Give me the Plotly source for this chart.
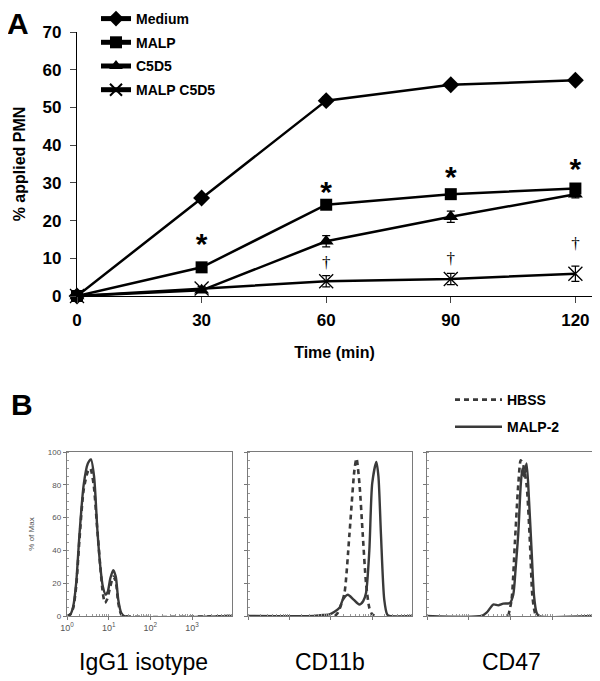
import plotly.graph_objects as go

# ---------------- Panel A data ----------------
time_min = [0, 30, 60, 90, 120]
medium = [0, 26.0, 51.8, 56.0, 57.2]
medium_err = [0, 0.6, 1.0, 0.6, 0.6]
malp = [0, 7.6, 24.2, 27.0, 28.5]
malp_err = [0, 0.6, 0.8, 0.8, 1.0]
c5d5 = [0, 1.5, 14.5, 21.0, 27.0]
c5d5_err = [0, 0.5, 1.5, 1.5, 1.0]
malp_c5d5 = [0, 2.0, 3.9, 4.5, 5.9]
malp_c5d5_err = [0, 0.5, 1.5, 1.5, 2.0]

star_x = [30, 60, 90, 120]
star_y = [13.0, 27.0, 31.0, 33.0]
dagger_x = [60, 90, 120]
dagger_y = [8.5, 9.5, 13.5]

# ---------------- Panel B data (log10 fluorescence, % of max) ----------------
igg_solid_log = [0.0, 0.08, 0.15, 0.22, 0.30, 0.40, 0.50, 0.575, 0.65, 0.73, 0.80, 0.86, 0.93, 0.98, 1.04, 1.11, 1.17, 1.23, 1.30, 1.37, 3.96]
igg_solid_y = [0, 1, 6, 20, 50, 80, 93, 95.5, 85, 52, 30, 18, 13, 15, 23, 28, 24, 10, 2, 0, 0]
igg_dash_log = [0.0, 0.08, 0.15, 0.22, 0.30, 0.40, 0.50, 0.56, 0.64, 0.72, 0.80, 0.86, 0.91, 0.96, 1.04, 1.11, 1.17, 1.23, 1.30, 1.36, 3.96]
igg_dash_y = [0, 1, 5, 18, 47, 77, 88, 90, 80, 55, 30, 14, 8, 10, 18, 24, 21, 8, 1, 0, 0]

cd11b_solid_log = [0.0, 1.6, 1.75, 1.97, 2.21, 2.29, 2.41, 2.55, 2.69, 2.78, 2.85, 2.93, 3.00, 3.10, 3.15, 3.21, 3.29, 3.36, 3.42, 3.96]
cd11b_solid_y = [0, 0, 0.5, 1, 5, 10, 13, 10, 7, 9, 14, 40, 81, 94, 85, 50, 10, 1, 0, 0]
cd11b_dash_log = [2.10, 2.17, 2.25, 2.33, 2.45, 2.57, 2.62, 2.69, 2.77, 2.85, 2.93, 3.00, 3.09]
cd11b_dash_y = [0, 2, 7, 14, 50, 89, 96, 81, 50, 20, 5, 1, 0]

cd47_solid_log = [0.0, 1.31, 1.43, 1.59, 1.71, 1.83, 1.99, 2.07, 2.13, 2.19, 2.25, 2.29, 2.33, 2.39, 2.45, 2.51, 2.57, 2.63, 2.69, 3.96]
cd47_solid_y = [0, 0, 2, 7, 6.5, 7.5, 8, 13, 30, 50, 80, 90, 85, 93, 70, 40, 12, 2, 0, 0]
cd47_dash_log = [1.95, 2.03, 2.11, 2.19, 2.25, 2.31, 2.39, 2.47, 2.53, 2.59, 2.64]
cd47_dash_y = [0, 10, 45, 80, 95, 92, 80, 45, 12, 2, 0]

panel_b_names = ["IgG1 isotype", "CD11b", "CD47"]
log_tick_vals = [1, 10, 100, 1000]
log_tick_text = ["10<sup>0</sup>", "10<sup>1</sup>", "10<sup>2</sup>", "10<sup>3</sup>"]

FONT = "Arial, Liberation Sans, sans-serif"
# the page body adds an 8px margin, so the figure is sized to fill the rest of the window
OFF = 8
W, H = 600 - OFF, 681 - OFF

def px(x):
    return (x - OFF) / W

def py(y):
    return 1 - (y - OFF) / H

fig = go.Figure()

# ---------- Panel A traces ----------
series = [
    ("Medium", medium, medium_err, dict(symbol="diamond", size=13, color="black")),
    ("MALP", malp, malp_err, dict(symbol="square", size=12, color="black")),
    ("C5D5", c5d5, c5d5_err, dict(symbol="triangle-up", size=13, color="black")),
    ("MALP C5D5", malp_c5d5, malp_c5d5_err,
     dict(symbol="x-thin", size=14, color="black", line=dict(width=1.3, color="black"))),
]
for i, (name, vals, err, mk) in enumerate(series):
    fig.add_trace(go.Scatter(
        x=time_min, y=vals, name=name, mode="lines+markers",
        line=dict(color="black", width=2.5), marker=mk,
        error_y=dict(type="data", array=err, visible=True, color="black", thickness=1.2, width=4),
        cliponaxis=False, legend="legend", legendgroup=name,
        xaxis="x", yaxis="y",
    ))

fig.add_trace(go.Scatter(
    x=star_x, y=star_y, mode="text", text=["*"] * len(star_x),
    textfont=dict(family=FONT, size=30, color="black", weight="bold"),
    showlegend=False, cliponaxis=False, xaxis="x", yaxis="y"))
fig.add_trace(go.Scatter(
    x=dagger_x, y=dagger_y, mode="text", text=["†"] * len(dagger_x),
    textfont=dict(family="Liberation Serif, serif", size=17, color="black"),
    showlegend=False, cliponaxis=False, xaxis="x", yaxis="y"))

# ---------- Panel B traces ----------
hist_color = "#3a3a3a"
hist_sets = [
    (igg_solid_log, igg_solid_y, igg_dash_log, igg_dash_y),
    (cd11b_solid_log, cd11b_solid_y, cd11b_dash_log, cd11b_dash_y),
    (cd47_solid_log, cd47_solid_y, cd47_dash_log, cd47_dash_y),
]
for k, (sl, sy, dl, dy) in enumerate(hist_sets):
    xa = "x%d" % (k + 2)
    ya = "y%d" % (k + 2)
    fig.add_trace(go.Scatter(
        x=[10 ** v for v in dl], y=dy, mode="lines", name="HBSS",
        line=dict(color=hist_color, width=2.6, dash="5px,4px", shape="spline", smoothing=0.7),
        showlegend=(k == 0), legend="legend2", legendgroup="HBSS",
        xaxis=xa, yaxis=ya))
    fig.add_trace(go.Scatter(
        x=[10 ** v for v in sl], y=sy, mode="lines", name="MALP-2",
        line=dict(color=hist_color, width=2.4, shape="spline", smoothing=0.7),
        showlegend=(k == 0), legend="legend2", legendgroup="MALP-2",
        xaxis=xa, yaxis=ya))

# ---------- Layout ----------
layout = dict(
    width=W, height=H,
    margin=dict(l=0, r=0, t=0, b=0, autoexpand=False),
    paper_bgcolor="white", plot_bgcolor="white",
    font=dict(family=FONT, color="black"),
    xaxis=dict(
        domain=[px(77), px(592)], range=[0, 124], anchor="y", automargin=False,
        tickvals=[0, 30, 60, 90, 120], ticks="outside", ticklen=6, tickwidth=1.2,
        showline=True, linecolor="black", linewidth=1.3, showgrid=False, zeroline=False,
        tickfont=dict(family=FONT, size=17, weight="bold"), ticklabelstandoff=2,
        title=dict(text="Time (min)", font=dict(family=FONT, size=16, weight="bold"), standoff=18),
    ),
    yaxis=dict(
        domain=[py(296), py(32)], range=[0, 70], anchor="x", automargin=False,
        tickvals=[0, 10, 20, 30, 40, 50, 60, 70], ticks="outside", ticklen=6, tickwidth=1.2,
        showline=True, linecolor="black", linewidth=1.3, showgrid=False, zeroline=False,
        tickfont=dict(family=FONT, size=17, weight="bold"), ticklabelstandoff=5,
        title=dict(text="% applied PMN", font=dict(family=FONT, size=16, weight="bold"), standoff=12),
    ),
    legend=dict(
        x=px(96), y=py(3), xanchor="left", yanchor="top",
        font=dict(family=FONT, size=14, weight="bold"),
        bgcolor="rgba(0,0,0,0)", tracegroupgap=2.5, itemwidth=30, itemsizing="constant",
        traceorder="grouped",
    ),
    legend2=dict(
        x=px(450), y=py(384), xanchor="left", yanchor="top",
        font=dict(family=FONT, size=14, weight="bold"),
        bgcolor="rgba(0,0,0,0)", tracegroupgap=6, itemwidth=47,
        traceorder="grouped",
    ),
    showlegend=True,
)

b_domains = [[px(67), px(232)], [px(248), px(412)], [px(427), px(592)]]
for k in range(3):
    first = (k == 0)
    layout["xaxis%d" % (k + 2)] = dict(
        domain=b_domains[k], type="log", range=[0, 3.96], anchor="y%d" % (k + 2), automargin=False,
        tickvals=log_tick_vals, ticktext=log_tick_text, showticklabels=first,
        ticks="outside", ticklen=3, tickcolor="#777", tickwidth=1,
        minor=dict(ticks="inside", ticklen=2, tickcolor="#999", dtick="D1", showgrid=False),
        showline=True, mirror=True, linecolor="#7a7a7a", linewidth=1.4,
        showgrid=False, zeroline=False,
        tickfont=dict(family=FONT, size=9, color="#555"),
    )
    layout["yaxis%d" % (k + 2)] = dict(
        domain=[py(616), py(452)], range=[0, 100], anchor="x%d" % (k + 2), automargin=False,
        tickvals=[0, 20, 40, 60, 80, 100], showticklabels=first,
        ticks="outside", ticklen=3, tickcolor="#777", tickwidth=1,
        minor=dict(ticks="inside", ticklen=2, tickcolor="#999", dtick=5, showgrid=False),
        showline=True, mirror=True, linecolor="#7a7a7a", linewidth=1.4,
        showgrid=False, zeroline=False,
        tickfont=dict(family=FONT, size=8, color="#555"),
    )
    if first:
        layout["yaxis2"]["title"] = dict(text="% of Max", font=dict(family=FONT, size=8, color="#555"), standoff=12)

fig.update_layout(**layout)

annotations = [
    dict(text="<b>A</b>", x=px(18), y=py(23), font=dict(family=FONT, size=30, color="black")),
    dict(text="<b>B</b>", x=px(22), y=py(404), font=dict(family=FONT, size=30, color="black")),
]
label_x = [143, 330, 511]
for name, cx in zip(panel_b_names, label_x):
    annotations.append(dict(text=name, x=px(cx), y=py(662), font=dict(family=FONT, size=23, color="black")))
for a in annotations:
    a.update(xref="paper", yref="paper", showarrow=False, xanchor="center", yanchor="middle")
fig.update_layout(annotations=annotations)

fig.write_html("out.html")
